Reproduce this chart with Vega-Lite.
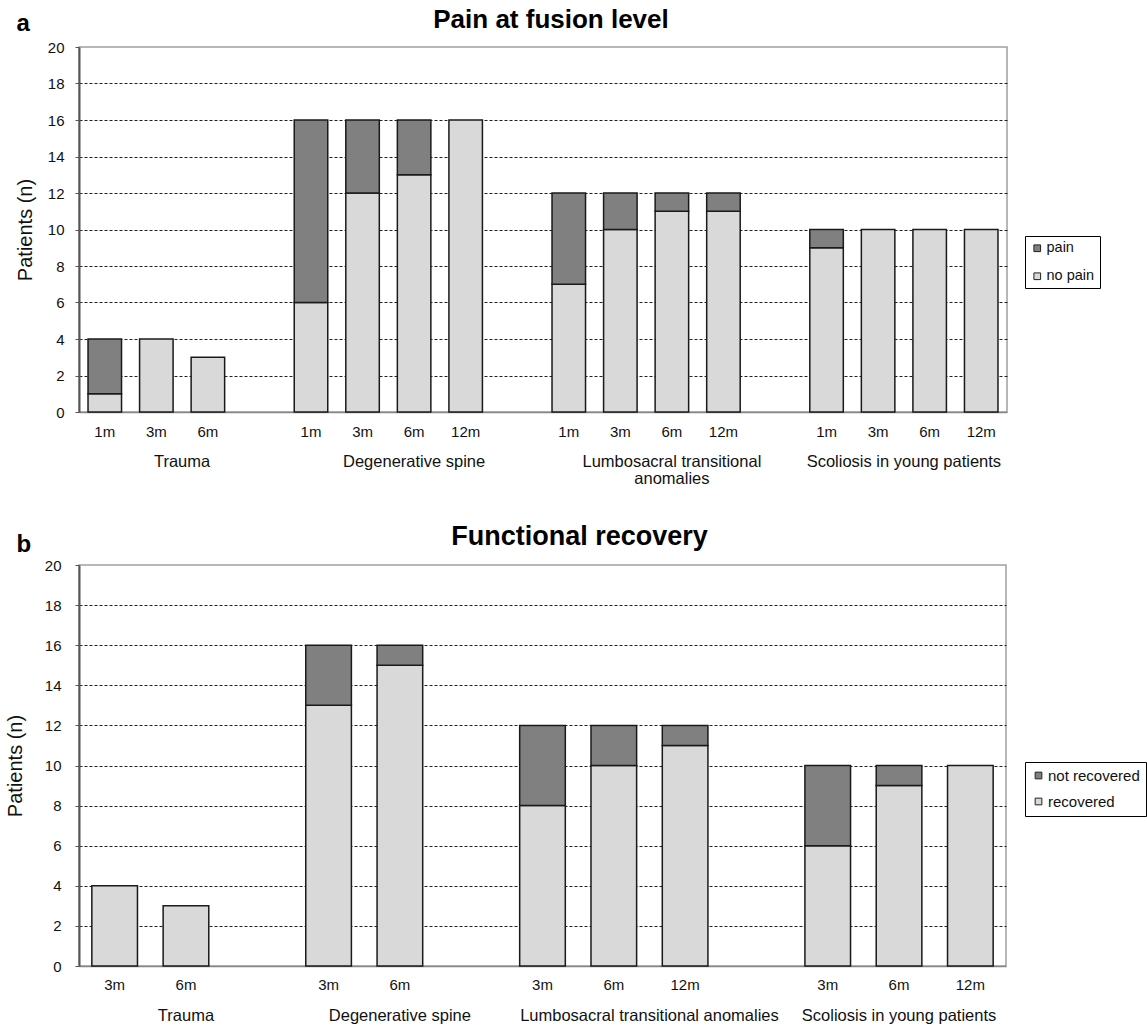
{
  "$schema": "https://vega.github.io/schema/vega-lite/v6.json",
  "padding": {"left": 4, "top": 6, "right": 0, "bottom": 0},
  "config": {
    "font": "Liberation Sans",
    "title": {"font": "Liberation Sans", "color": "#000"},
    "axis": {"labelFont": "Liberation Sans", "titleFont": "Liberation Sans", "labelColor": "#111", "titleColor": "#111"},
    "legend": {"labelFont": "Liberation Sans", "labelColor": "#111"}
  },
  "resolve": {"scale": {"color": "independent"}, "legend": {"color": "independent"}},
  "datasets": {
    "pain": [
      {"slot": "Trauma|1m", "status": "no pain", "n": 1},
      {"slot": "Trauma|1m", "status": "pain", "n": 3},
      {"slot": "Trauma|3m", "status": "no pain", "n": 4},
      {"slot": "Trauma|6m", "status": "no pain", "n": 3},
      {"slot": "Degenerative|1m", "status": "no pain", "n": 6},
      {"slot": "Degenerative|1m", "status": "pain", "n": 10},
      {"slot": "Degenerative|3m", "status": "no pain", "n": 12},
      {"slot": "Degenerative|3m", "status": "pain", "n": 4},
      {"slot": "Degenerative|6m", "status": "no pain", "n": 13},
      {"slot": "Degenerative|6m", "status": "pain", "n": 3},
      {"slot": "Degenerative|12m", "status": "no pain", "n": 16},
      {"slot": "Lumbosacral|1m", "status": "no pain", "n": 7},
      {"slot": "Lumbosacral|1m", "status": "pain", "n": 5},
      {"slot": "Lumbosacral|3m", "status": "no pain", "n": 10},
      {"slot": "Lumbosacral|3m", "status": "pain", "n": 2},
      {"slot": "Lumbosacral|6m", "status": "no pain", "n": 11},
      {"slot": "Lumbosacral|6m", "status": "pain", "n": 1},
      {"slot": "Lumbosacral|12m", "status": "no pain", "n": 11},
      {"slot": "Lumbosacral|12m", "status": "pain", "n": 1},
      {"slot": "Scoliosis|1m", "status": "no pain", "n": 9},
      {"slot": "Scoliosis|1m", "status": "pain", "n": 1},
      {"slot": "Scoliosis|3m", "status": "no pain", "n": 10},
      {"slot": "Scoliosis|6m", "status": "no pain", "n": 10},
      {"slot": "Scoliosis|12m", "status": "no pain", "n": 10}
    ],
    "painGroups": [
      {"slot": "Trauma|3m", "label": "Trauma"},
      {"slot": "Degenerative|6m", "label": "Degenerative spine"},
      {"slot": "Lumbosacral|6m", "label": "Lumbosacral transitional\nanomalies"},
      {"slot": "Scoliosis|3m", "label": "Scoliosis in young patients"}
    ],
    "recovery": [
      {"slot": "Trauma|3m", "status": "recovered", "n": 4},
      {"slot": "Trauma|6m", "status": "recovered", "n": 3},
      {"slot": "Degenerative|3m", "status": "recovered", "n": 13},
      {"slot": "Degenerative|3m", "status": "not recovered", "n": 3},
      {"slot": "Degenerative|6m", "status": "recovered", "n": 15},
      {"slot": "Degenerative|6m", "status": "not recovered", "n": 1},
      {"slot": "Lumbosacral|3m", "status": "recovered", "n": 8},
      {"slot": "Lumbosacral|3m", "status": "not recovered", "n": 4},
      {"slot": "Lumbosacral|6m", "status": "recovered", "n": 10},
      {"slot": "Lumbosacral|6m", "status": "not recovered", "n": 2},
      {"slot": "Lumbosacral|12m", "status": "recovered", "n": 11},
      {"slot": "Lumbosacral|12m", "status": "not recovered", "n": 1},
      {"slot": "Scoliosis|3m", "status": "recovered", "n": 6},
      {"slot": "Scoliosis|3m", "status": "not recovered", "n": 4},
      {"slot": "Scoliosis|6m", "status": "recovered", "n": 9},
      {"slot": "Scoliosis|6m", "status": "not recovered", "n": 1},
      {"slot": "Scoliosis|12m", "status": "recovered", "n": 10}
    ],
    "recoveryGroups": [
      {"slot": "Trauma|6m", "label": "Trauma"},
      {"slot": "Degenerative|6m", "label": "Degenerative spine"},
      {"slot": "Lumbosacral|6m", "label": "Lumbosacral transitional anomalies"},
      {"slot": "Scoliosis|6m", "label": "Scoliosis in young patients"}
    ]
  },
  "align": "none",
  "spacing": 33,
  "vconcat": [
    {
      "title": {"text": "a", "anchor": "start", "frame": "bounds", "fontSize": 24, "fontWeight": "bold", "dx": 2, "dy": 30, "offset": 0},
      "vconcat": [
        {
          "title": {"text": "Pain at fusion level", "anchor": "middle", "frame": "group", "dx": 8, "fontSize": 26, "fontWeight": "bold", "offset": 7},
          "width": 928,
          "height": 365,
          "view": {"stroke": "#a0a0a0", "strokeWidth": 1.5},
          "layer": [
            {
              "data": {"name": "pain"},
              "mark": {"type": "bar", "width": {"band": 0.65}, "stroke": "#1a1a1a", "strokeWidth": 1.5},
              "encoding": {
                "x": {
                  "field": "slot", "type": "nominal",
                  "scale": {"domain": ["Trauma|1m", "Trauma|3m", "Trauma|6m", "g1|", "Degenerative|1m", "Degenerative|3m", "Degenerative|6m", "Degenerative|12m", "g2|", "Lumbosacral|1m", "Lumbosacral|3m", "Lumbosacral|6m", "Lumbosacral|12m", "g3|", "Scoliosis|1m", "Scoliosis|3m", "Scoliosis|6m", "Scoliosis|12m"], "paddingInner": 0, "paddingOuter": 0},
                  "axis": {"title": null, "labelExpr": "split(datum.label, '|')[1]", "ticks": false, "labelPadding": 12, "labelFontSize": 15, "labelAngle": 0, "domainColor": "#888", "domainWidth": 1.5, "grid": false}
                },
                "y": {
                  "field": "n", "type": "quantitative", "stack": "zero",
                  "scale": {"domain": [0, 20]},
                  "axis": {"title": "Patients (n)", "values": [0, 2, 4, 6, 8, 10, 12, 14, 16, 18, 20], "tickCount": 20, "labelOverlap": false, "grid": true, "gridDash": [3, 2], "gridColor": {"condition": {"test": "datum.value == 0 || datum.value == 20", "value": "transparent"}, "value": "#222"}, "gridWidth": 1, "domainColor": "#555", "domainWidth": 2, "tickColor": "#555", "tickSize": 4, "labelFontSize": 15, "labelPadding": 11, "titleFontSize": 20, "titleFontWeight": "normal", "titlePadding": 12}
                },
                "color": {
                  "field": "status", "type": "nominal",
                  "scale": {"domain": ["pain", "no pain"], "range": ["#808080", "#d9d9d9"]},
                  "legend": {"title": null, "orient": "none", "legendX": 946, "legendY": 189, "strokeColor": "#000", "fillColor": "#fff", "padding": 5, "symbolType": "square", "symbolSize": 45, "symbolStrokeColor": "#222", "symbolStrokeWidth": 1, "labelFontSize": 14.5, "rowPadding": 13, "labelOffset": 2}
                },
                "order": {"field": "status", "sort": "ascending"}
              }
            },
            {
              "data": {"name": "painGroups"},
              "transform": [{"filter": {"field": "label", "oneOf": ["Trauma", "Scoliosis in young patients"]}}],
              "mark": {"type": "text", "baseline": "top", "dy": 42, "fontSize": 16.5, "color": "#111", "lineBreak": "\n", "lineHeight": 17},
              "encoding": {
                "x": {"field": "slot", "type": "nominal", "bandPosition": 1},
                "y": {"datum": 0, "type": "quantitative"},
                "text": {"field": "label"}
              }
            },
            {
              "data": {"name": "painGroups"},
              "transform": [{"filter": {"not": {"field": "label", "oneOf": ["Trauma", "Scoliosis in young patients"]}}}],
              "mark": {"type": "text", "baseline": "top", "dy": 42, "fontSize": 16.5, "color": "#111", "lineBreak": "\n", "lineHeight": 17},
              "encoding": {
                "x": {"field": "slot", "type": "nominal", "bandPosition": 0.5},
                "y": {"datum": 0, "type": "quantitative"},
                "text": {"field": "label"}
              }
            }
          ]
        }
      ]
    },
    {
      "title": {"text": "b", "anchor": "start", "frame": "bounds", "fontSize": 24, "fontWeight": "bold", "dx": 12, "dy": 35, "offset": 0},
      "vconcat": [
        {
          "title": {"text": "Functional recovery", "anchor": "middle", "frame": "group", "dx": 37, "fontSize": 27, "fontWeight": "bold", "offset": 7},
          "width": 927,
          "height": 401,
          "view": {"stroke": "#a0a0a0", "strokeWidth": 1.5},
          "layer": [
            {
              "data": {"name": "recovery"},
              "mark": {"type": "bar", "width": {"band": 0.64}, "stroke": "#1a1a1a", "strokeWidth": 1.5},
              "encoding": {
                "x": {
                  "field": "slot", "type": "nominal",
                  "scale": {"domain": ["Trauma|3m", "Trauma|6m", "g1|", "Degenerative|3m", "Degenerative|6m", "g2|", "Lumbosacral|3m", "Lumbosacral|6m", "Lumbosacral|12m", "g3|", "Scoliosis|3m", "Scoliosis|6m", "Scoliosis|12m"], "paddingInner": 0, "paddingOuter": 0},
                  "axis": {"title": null, "labelExpr": "split(datum.label, '|')[1]", "ticks": false, "labelPadding": 11, "labelFontSize": 15, "labelAngle": 0, "domainColor": "#888", "domainWidth": 1.5, "grid": false}
                },
                "y": {
                  "field": "n", "type": "quantitative", "stack": "zero",
                  "scale": {"domain": [0, 20]},
                  "axis": {"title": "Patients (n)", "values": [0, 2, 4, 6, 8, 10, 12, 14, 16, 18, 20], "tickCount": 20, "labelOverlap": false, "grid": true, "gridDash": [3, 2], "gridColor": {"condition": {"test": "datum.value == 0 || datum.value == 20", "value": "transparent"}, "value": "#222"}, "gridWidth": 1, "domainColor": "#555", "domainWidth": 2, "tickColor": "#555", "tickSize": 4, "labelFontSize": 15, "labelPadding": 14, "titleFontSize": 20, "titleFontWeight": "normal", "titlePadding": 19}
                },
                "color": {
                  "field": "status", "type": "nominal",
                  "scale": {"domain": ["not recovered", "recovered"], "range": ["#808080", "#d9d9d9"]},
                  "legend": {"title": null, "orient": "none", "legendX": 946, "legendY": 197, "strokeColor": "#000", "fillColor": "#fff", "padding": 6, "symbolType": "square", "symbolSize": 45, "symbolStrokeColor": "#222", "symbolStrokeWidth": 1, "labelFontSize": 15, "rowPadding": 10, "labelOffset": 2}
                },
                "order": {"field": "status", "sort": "descending"}
              }
            },
            {
              "data": {"name": "recoveryGroups"},
              "transform": [{"filter": {"field": "label", "oneOf": ["Lumbosacral transitional anomalies"]}}],
              "mark": {"type": "text", "baseline": "top", "dy": 42, "fontSize": 16.5, "color": "#111"},
              "encoding": {
                "x": {"field": "slot", "type": "nominal", "bandPosition": 1},
                "y": {"datum": 0, "type": "quantitative"},
                "text": {"field": "label"}
              }
            },
            {
              "data": {"name": "recoveryGroups"},
              "transform": [{"filter": {"not": {"field": "label", "oneOf": ["Lumbosacral transitional anomalies"]}}}],
              "mark": {"type": "text", "baseline": "top", "dy": 42, "fontSize": 16.5, "color": "#111"},
              "encoding": {
                "x": {"field": "slot", "type": "nominal", "bandPosition": 0.5},
                "y": {"datum": 0, "type": "quantitative"},
                "text": {"field": "label"}
              }
            }
          ]
        }
      ]
    }
  ]
}
